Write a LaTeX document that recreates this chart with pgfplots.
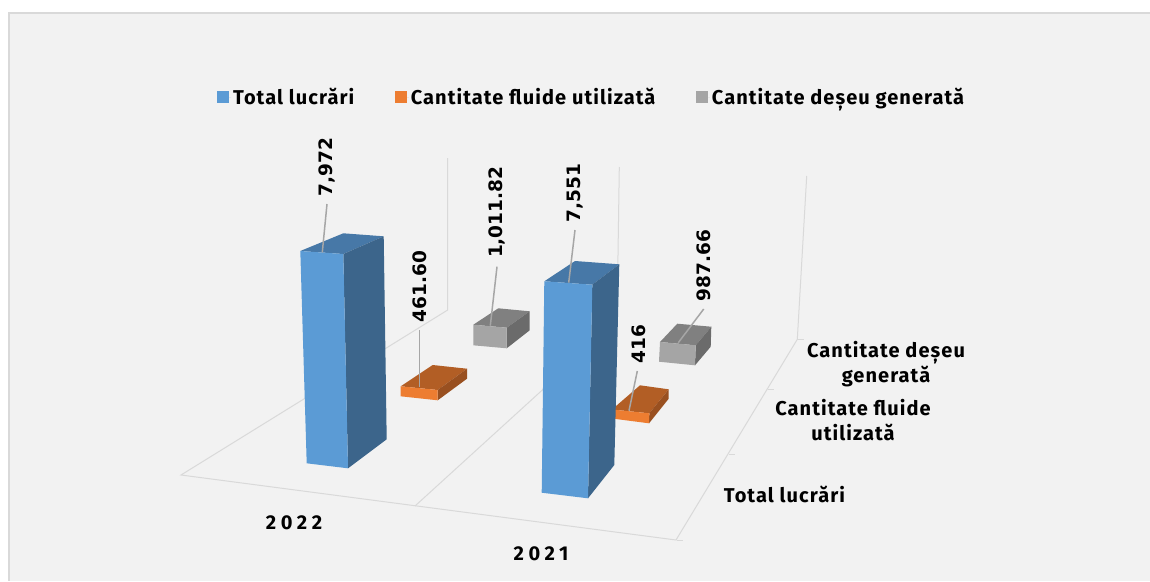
\documentclass[border=0pt]{standalone}
\usepackage{pgfplots}
\usepackage{fontspec}
\setmainfont{Fira Sans}
\newfontfamily\lbl[LetterSpace=5.4]{Fira Sans}
\newfontfamily\yrs[LetterSpace=23]{Fira Sans}
\newfontfamily\numf{DejaVu Sans}
\pgfplotsset{compat=1.18}
\definecolor{bgc}{RGB}{242,242,242}
\definecolor{framec}{RGB}{217,217,217}
\definecolor{gridc}{RGB}{217,217,217}
\definecolor{leadc}{RGB}{166,166,166}
\definecolor{bluef}{RGB}{91,155,213}
\definecolor{bluet}{RGB}{71,120,167}
\definecolor{blues}{RGB}{60,101,139}
\definecolor{orf}{RGB}{237,125,49}
\definecolor{ort}{RGB}{178,94,37}
\definecolor{ors}{RGB}{153,80,32}
\definecolor{grf}{RGB}{165,165,165}
\definecolor{grt}{RGB}{128,128,128}
\definecolor{grs}{RGB}{107,107,107}
\pgfplotsset{sq legend/.style={legend image code/.code={\fill[##1] (0pt,-6pt) rectangle (12pt,6pt);\path (0pt,0pt) -- (14pt,0pt);}}}
\begin{document}
\begin{tikzpicture}[x=1pt,y=1pt]
\begin{axis}[
  at={(0,0)},anchor=south west,
  scale only axis,width=1150pt,height=581pt,
  xmin=0,xmax=1150,ymin=0,ymax=581,y dir=reverse,
  hide axis,
  clip=true,
  legend columns=3,
  legend cell align=left,
  legend style={draw=none,fill=none,at={(axis cs:217,97)},anchor=west,font=\lbl\bfseries\fontsize{20}{22}\selectfont,inner sep=0pt,
    /tikz/every even column/.style={column sep=38.5pt}},
]
% frame and background
\addplot[fill=white,draw=none,forget plot] coordinates {(0,0)(1150,0)(1150,581)(0,581)} -- cycle;
\addplot[fill=framec,draw=none,forget plot] coordinates {(8,12)(1150,12)(1150,581)(8,581)} -- cycle;
\addplot[fill=bgc,draw=none,forget plot] coordinates {(10,14)(1150,14)(1150,581)(10,581)} -- cycle;
% walls and floor
\addplot[gridc,line width=1pt,forget plot] coordinates {(447.7,158)(447.7,310)(181,475)(676,540)(797.3,339.3)(806.7,176)};
\addplot[gridc,line width=1pt,forget plot] coordinates {(415,506)(617,322)(619.3,167)};
% depth ticks
\addplot[gridc,line width=1pt,forget plot] coordinates {(676.7,540)(683,540)};
\addplot[gridc,line width=1pt,forget plot] coordinates {(729,454.3)(735,454.3)};
\addplot[gridc,line width=1pt,forget plot] coordinates {(767.7,389.7)(774,389.7)};
\addplot[gridc,line width=1pt,forget plot] coordinates {(797.3,339.3)(804,339.3)};
% gray 2022
\addplot[fill=grt,draw=none,forget plot] coordinates {(473.3,324.7)(498.3,308.3)(529.7,311.3)(506.7,327.7)} -- cycle;
\addplot[fill=grs,draw=none,forget plot] coordinates {(506.7,327.7)(529.7,311.3)(529.7,330.3)(506.7,348.3)} -- cycle;
\addplot[fill=grf,draw=none,forget plot] coordinates {(473.3,324.7)(506.7,327.7)(506.7,348.3)(473.3,345.3)} -- cycle;
% orange 2022
\addplot[fill=ort,draw=none,forget plot] coordinates {(400.7,386.3)(432.7,365)(467,368.7)(437.7,390)} -- cycle;
\addplot[fill=ors,draw=none,forget plot] coordinates {(437.7,390)(467,368.7)(467,378.7)(437.7,400.3)} -- cycle;
\addplot[fill=orf,draw=none,forget plot] coordinates {(400.7,386.3)(437.7,390)(437.7,400.3)(400.7,396.3)} -- cycle;
% blue 2022
\addplot[fill=bluet,draw=none,forget plot] coordinates {(300.3,251)(343.3,233.3)(383.7,236.3)(343.3,254)} -- cycle;
\addplot[fill=blues,draw=none,forget plot] coordinates {(343.3,254)(383.7,236.3)(386.7,439.3)(348,468.3)} -- cycle;
\addplot[fill=bluef,draw=none,forget plot] coordinates {(300.3,251)(343.3,254)(348,468.3)(306.7,463.3)} -- cycle;
% gray 2021
\addplot[fill=grt,draw=none,forget plot] coordinates {(660,342)(677.3,323.7)(711.3,326.7)(695.7,345.3)} -- cycle;
\addplot[fill=grs,draw=none,forget plot] coordinates {(695.7,345.3)(711.3,326.7)(710.7,346.7)(695,365.3)} -- cycle;
\addplot[fill=grf,draw=none,forget plot] coordinates {(660,342)(695.7,345.3)(695,365.3)(659,361.7)} -- cycle;
% orange 2021
\addplot[fill=ort,draw=none,forget plot] coordinates {(612,409.5)(640,385.3)(668.7,389.3)(649.3,413.3)} -- cycle;
\addplot[fill=ors,draw=none,forget plot] coordinates {(649.3,413.3)(668.7,389.3)(668.7,398.7)(649,423.3)} -- cycle;
\addplot[fill=orf,draw=none,forget plot] coordinates {(612,409.5)(649.3,413.3)(649,423.3)(612,418.5)} -- cycle;
% blue 2021
\addplot[fill=bluet,draw=none,forget plot] coordinates {(544.3,281.3)(575,261)(619.3,264.3)(592.3,284.7)} -- cycle;
\addplot[fill=blues,draw=none,forget plot] coordinates {(592.3,284.7)(619.3,264.3)(614.3,465)(588,498.3)} -- cycle;
\addplot[fill=bluef,draw=none,forget plot] coordinates {(544.3,281.3)(592.3,284.7)(588,498.3)(541.7,492.7)} -- cycle;
% leader lines
\addplot[leadc,line width=1.5pt,forget plot] coordinates {(327,204)(322.3,252.3)};
\addplot[leadc,line width=1.5pt,forget plot] coordinates {(419.3,330)(419.3,387.3)};
\addplot[leadc,line width=1.5pt,forget plot] coordinates {(497,266.7)(490.3,325.7)};
\addplot[leadc,line width=1.5pt,forget plot] coordinates {(575,230)(568.7,282.7)};
\addplot[leadc,line width=1.5pt,forget plot] coordinates {(637.3,371)(629,410.7)};
\addplot[leadc,line width=1.5pt,forget plot] coordinates {(703.7,309)(678.3,342.7)};
% data labels
\addplot[draw=none,forget plot,nodes near coords,point meta=explicit symbolic,
  nodes near coords style={rotate=90,anchor=center,font=\numf\bfseries\fontsize{18.5}{20}\selectfont,text=black,inner sep=0pt}]
  table[meta=l,col sep=semicolon] {
x;y;l
327.3;167.3;{7,972}
419.7;286.7;{461.60}
497.3;212.3;{1,011.82}
575.3;193.3;{7,551}
638.3;344;{416}
704;265.7;{987.66}
};
% category labels
\addplot[draw=none,forget plot,nodes near coords,point meta=explicit symbolic,
  nodes near coords style={anchor=center,font=\yrs\bfseries\fontsize{20}{22}\selectfont,text=black,inner sep=0pt}]
  table[meta=l,col sep=semicolon] {
x;y;l
294;523;{2022}
541;554;{2021}
};
\addplot[draw=none,forget plot,nodes near coords,point meta=explicit symbolic,
  nodes near coords style={anchor=center,align=center,font=\lbl\bfseries\fontsize{20}{24.5}\selectfont,text=black,inner sep=0pt}]
  table[meta=l,col sep=semicolon] {
x;y;l
784.5;494;{Total lucrări}
853;420;{Cantitate fluide\\utilizată}
886;364;{Cantitate deșeu\\generată}
};
% legend
\addlegendimage{sq legend,fill=bluef,draw=none}
\addlegendentry{Total lucrări}
\addlegendimage{sq legend,fill=orf,draw=none}
\addlegendentry{Cantitate fluide utilizată}
\addlegendimage{sq legend,fill=grf,draw=none}
\addlegendentry{Cantitate deșeu generată}
\end{axis}
\end{tikzpicture}
\end{document}
